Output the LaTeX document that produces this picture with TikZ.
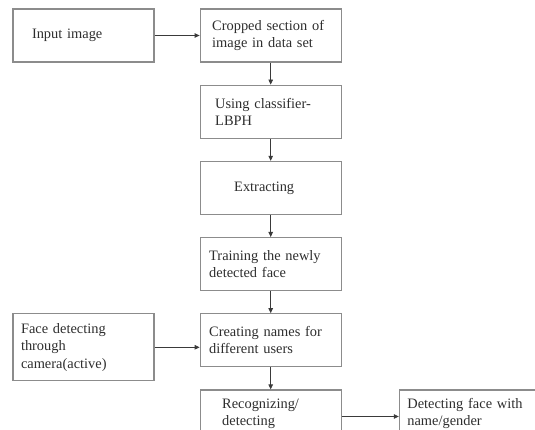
\documentclass[tikz,border=0pt]{standalone}
\usepackage{fontspec}
\setmainfont{Liberation Serif}
\usetikzlibrary{arrows.meta,positioning}
\definecolor{boxgray}{HTML}{8C8C8C}
\definecolor{linegray}{HTML}{3A3A3A}
\definecolor{textgray}{HTML}{2E2E2E}

\begin{document}
\begin{tikzpicture}[
    x=1pt, y=1pt,
    node distance=22pt,
    stage/.style={draw=boxgray, line width=1.2pt, minimum width=141pt, minimum height=53pt,
      inner xsep=9pt, text width=123pt, align=left, text=textgray,
      font=\fontsize{14.4}{17.3}\selectfont},
    flow/.style={-{Triangle[length=5pt,width=4.5pt]}, draw=linegray, line width=0.8pt}
]

\clip (0,0) rectangle (535,-430);
\fill[white] (0,0) rectangle (535,-430);

\node[stage, inner xsep=19pt, text width=103pt] (input) at (83.5,-35.5) {Input image};
\node[stage, right=45pt of input, inner xsep=12pt, text width=117pt] (crop) {Cropped section of\\image in data set};
\node[stage, below=of crop, inner xsep=15pt, text width=111pt] (lbph) {Using classifier-\\LBPH};
\node[stage, below=of lbph, inner xsep=34pt, text width=73pt] (extract) {Extracting};
\node[stage, below=of extract] (train) {Training the newly\\detected face};
\node[stage, below=of train] (names) {Creating names for\\different users};
\node[stage, left=45pt of names.north west, anchor=north east, minimum height=67pt,
      inner xsep=8pt, text width=125pt] (camera) {Face detecting\\through\\camera(active)};
% bottom row runs off the page
\node[stage, below=of names, text depth=26pt, inner xsep=22pt, text width=97pt] (recog) {Recognizing/\\detecting};
\node[stage, right=57pt of recog, text depth=26pt, inner xsep=8pt, text width=125pt] (detect) {Detecting face with\\name/gender};

\draw[flow] (input) -- (crop);
\draw[flow] (crop) -- (lbph);
\draw[flow] (lbph) -- (extract);
\draw[flow] (extract) -- (train);
\draw[flow] (train) -- (names);
\draw[flow] (camera.east) -- (camera.east -| names.west);
\draw[flow] (names) -- (recog);
\draw[flow] (recog) -- (detect);

\end{tikzpicture}
\end{document}
